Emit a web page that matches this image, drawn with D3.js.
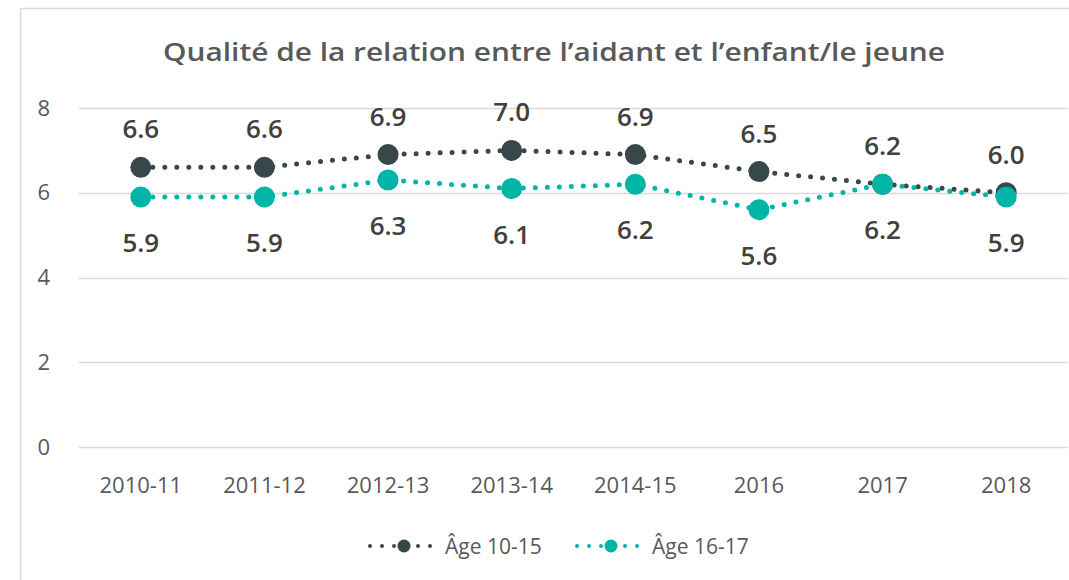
<!DOCTYPE html>
<html>
<head>
<meta charset="utf-8">
<script src="https://cdn.jsdelivr.net/npm/d3@7"></script>
<style>
  body { margin: 0; background: #fff; }
  svg { font-family: "Open Sans", "Noto Sans", sans-serif; }
</style>
</head>
<body>
<svg id="chart" width="1069" height="580"></svg>
<script>
const categories = ["2010-11", "2011-12", "2012-13", "2013-14", "2014-15", "2016", "2017", "2018"];
const age1015 = [6.6, 6.6, 6.9, 7.0, 6.9, 6.5, 6.2, 6.0];
const age1617 = [5.9, 5.9, 6.3, 6.1, 6.2, 5.6, 6.2, 5.9];
const yTicks = [0, 2, 4, 6, 8];
const seriesNames = ["Âge 10-15", "Âge 16-17"];

const colors = ["#37474a", "#00b5a5"];
const textColor = "#595959";

const svg = d3.select("#chart");

// chart frame
svg.append("path")
    .attr("d", "M20.5,580 V8.5 H1069")
    .attr("fill", "none")
    .attr("stroke", "#d9d9d9")
    .attr("stroke-width", 1.5);

svg.append("text")
    .attr("x", 554)
    .attr("y", 61)
    .attr("text-anchor", "middle")
    .attr("font-size", 26)
    .attr("font-weight", 600)
    .attr("fill", textColor)
    .attr("textLength", 782)
    .attr("lengthAdjust", "spacingAndGlyphs")
    .text("Qualité de la relation entre l’aidant et l’enfant/le jeune");

const x = d3.scaleBand().domain(categories).range([79, 1068]);
const y = d3.scaleLinear().domain([0, 8]).range([447, 108]);

// gridlines
svg.append("g")
    .selectAll("line")
    .data(yTicks)
    .join("line")
    .attr("x1", 79)
    .attr("x2", 1068)
    .attr("y1", d => Math.round(y(d)) + 0.5)
    .attr("y2", d => Math.round(y(d)) + 0.5)
    .attr("stroke", "#d9d9d9")
    .attr("stroke-width", 1.5);

const yAxis = svg.append("g")
    .attr("transform", "translate(50,0)")
    .call(d3.axisLeft(y).tickValues(yTicks).tickSize(0).tickPadding(0));
yAxis.select(".domain").remove();
yAxis.attr("font-size", null).attr("font-family", null);
yAxis.selectAll("text")
    .attr("font-size", 22)
    .attr("fill", textColor);

const xAxis = svg.append("g")
    .attr("transform", "translate(0,477)")
    .call(d3.axisBottom(x).tickSize(0).tickPadding(0));
xAxis.select(".domain").remove();
xAxis.attr("font-size", null).attr("font-family", null);
xAxis.selectAll("text")
    .attr("font-size", 22)
    .attr("fill", textColor)
    .attr("dy", "0.71em");

const cx = d => x(d) + x.bandwidth() / 2;
const line = d3.line().x(d => cx(d.cat)).y(d => y(d.v));

[age1015, age1617].forEach((vals, i) => {
    const pts = categories.map((c, j) => ({ cat: c, v: vals[j] }));
    const g = svg.append("g");
    g.append("path")
        .datum(pts)
        .attr("d", line)
        .attr("fill", "none")
        .attr("stroke", colors[i])
        .attr("stroke-width", 5)
        .attr("stroke-linecap", "round")
        .attr("stroke-dasharray", "0 12");
    g.selectAll("circle")
        .data(pts)
        .join("circle")
        .attr("cx", d => cx(d.cat))
        .attr("cy", d => y(d.v))
        .attr("r", 10.5)
        .attr("fill", colors[i]);
});

// data labels (dark above, teal below)
[age1015, age1617].forEach((vals, i) => {
    svg.append("g")
        .selectAll("text")
        .data(vals)
        .join("text")
        .attr("x", (d, j) => cx(categories[j]))
        .attr("y", d => i === 0 ? y(d) - 29 : y(d) + 55)
        .attr("text-anchor", "middle")
        .attr("font-size", 26)
        .attr("font-weight", 600)
        .attr("fill", "#404040")
        .text(d => d.toFixed(1));
});

// legend
const legendItems = [
    { name: seriesNames[0], color: colors[0], x0: 370 },
    { name: seriesNames[1], color: colors[1], x0: 577 }
];
const lg = svg.append("g");
legendItems.forEach(it => {
    lg.append("line")
        .attr("x1", it.x0)
        .attr("x2", it.x0 + 64)
        .attr("y1", 546)
        .attr("y2", 546)
        .attr("stroke", it.color)
        .attr("stroke-width", 4)
        .attr("stroke-linecap", "round")
        .attr("stroke-dasharray", "0 12");
    lg.append("circle")
        .attr("cx", it.x0 + 34)
        .attr("cy", 546)
        .attr("r", 6.5)
        .attr("fill", it.color);
    lg.append("text")
        .attr("x", it.x0 + 75)
        .attr("y", 554)
        .attr("font-size", 21)
        .attr("fill", textColor)
        .text(it.name);
});
</script>
</body>
</html>
